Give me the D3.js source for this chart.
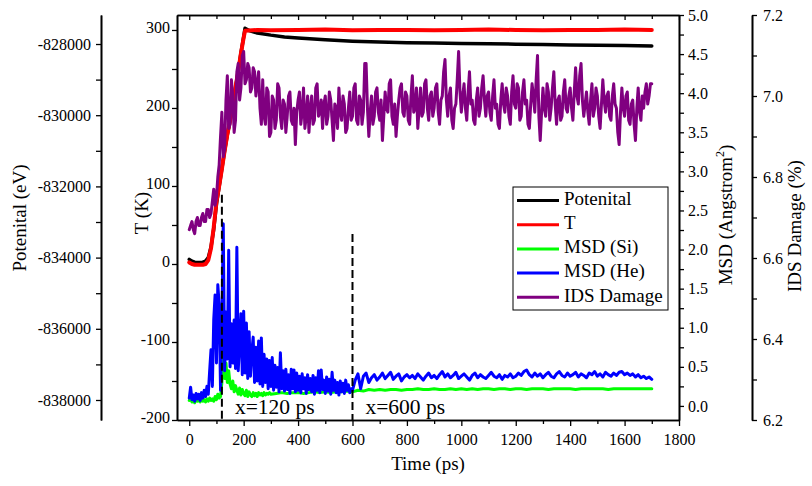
<!DOCTYPE html>
<html>
<head>
<meta charset="utf-8">
<script src="https://cdn.jsdelivr.net/npm/d3@7"></script>
<style>
  html, body { margin: 0; padding: 0; background: #fff; }
  svg { display: block; font-family: "Liberation Serif", "Times New Roman", serif; }
</style>
</head>
<body>
<svg id="chart" width="812" height="486"></svg>
<script>
// ---- tick labels ----
const timeTicks = [0, 200, 400, 600, 800, 1000, 1200, 1400, 1600, 1800];
const timeMinorTicks = [100, 300, 500, 700, 900, 1100, 1300, 1500, 1700];
const potentialTicks = [-838000, -836000, -834000, -832000, -830000, -828000];
const potentialMinorTicks = [-837000, -835000, -833000, -831000, -829000];
const temperatureTicks = [-200, -100, 0, 100, 200, 300];
const temperatureMinorTicks = [-150, -50, 50, 150, 250];
const msdTicks = [0, 0.5, 1, 1.5, 2, 2.5, 3, 3.5, 4, 4.5, 5];
const msdMinorTicks = [0.25, 0.75, 1.25, 1.75, 2.25, 2.75, 3.25, 3.75, 4.25, 4.75];
const idsTicks = [6.2, 6.4, 6.6, 6.8, 7.0, 7.2];
const idsMinorTicks = [6.3, 6.5, 6.7, 6.9, 7.1];

// ---- potential energy (eV) ----
const potentialTime = [0, 10, 20, 30, 40, 50, 60, 70, 80, 90, 100, 110, 120, 130, 140, 150, 160, 170, 180, 190,
  200, 205, 220, 250, 300, 350, 400, 500, 600, 700, 800, 900, 1000, 1100, 1200, 1300, 1400, 1500, 1600, 1700];
const potentialValue = [-834050, -834100, -834130, -834140, -834140, -834130, -834100, -834000, -833700, -833200,
  -832500, -832000, -831500, -831000, -830550, -830150, -829680, -829230, -828760, -828250,
  -827800, -827560, -827620, -827690, -827750, -827800, -827830, -827880, -827920, -827945,
  -827965, -827975, -827985, -827995, -828005, -828015, -828025, -828035, -828045, -828055];

// ---- temperature (K) ----
const temperatureTime = [0, 10, 20, 30, 40, 50, 60, 70, 80, 90, 100, 110, 120, 130, 140, 150, 160, 170, 180, 190,
  200, 205, 250, 300, 400, 500, 600, 700, 800, 900, 1000, 1100, 1200, 1300, 1400, 1500, 1600, 1700];
const temperatureValue = [2, 0, -1, -1, -1, -1, 0, 5, 20, 47, 80, 100, 122, 145, 166, 184, 205, 226, 247, 270,
  290, 299, 300, 299.5, 300, 300.5, 299.5, 300, 300, 299.5, 300, 300.5, 300, 299.5, 300, 300, 300.5, 300];

// ---- MSD of Si (Angstrom^2): 0-300 ps every 5 ps, then 320-1700 ps every 20 ps ----
const msdSiEarly = [0.07, 0.10, 0.05, 0.08, 0.04, 0.09, 0.06, 0.08, 0.05, 0.09, 0.06, 0.08, 0.05, 0.09, 0.06, 0.10,
  0.07, 0.09, 0.06, 0.12, 0.08, 0.15, 0.10, 0.12, 0.30, 0.84, 0.35, 0.55, 0.30, 0.45, 0.28, 0.22, 0.32, 0.18,
  0.26, 0.20, 0.15, 0.23, 0.14, 0.21, 0.16, 0.13, 0.20, 0.12, 0.18, 0.14, 0.12, 0.17, 0.13, 0.16, 0.12, 0.17,
  0.14, 0.16, 0.13, 0.17, 0.14, 0.16, 0.15, 0.17, 0.15];
const msdSiLate = [0.16, 0.17, 0.16, 0.17, 0.17, 0.16, 0.17, 0.18, 0.17, 0.18, 0.17, 0.18, 0.18, 0.19, 0.18, 0.20,
  0.19, 0.21, 0.20, 0.21, 0.20, 0.21, 0.21, 0.20, 0.21, 0.21, 0.22, 0.21, 0.21, 0.22, 0.21, 0.21, 0.22, 0.21,
  0.22, 0.21, 0.22, 0.21, 0.22, 0.22, 0.21, 0.22, 0.22, 0.21, 0.22, 0.22, 0.21, 0.22, 0.22, 0.22, 0.21, 0.22,
  0.22, 0.22, 0.22, 0.21, 0.22, 0.22, 0.22, 0.22, 0.22, 0.21, 0.22, 0.22, 0.22, 0.22, 0.22, 0.22, 0.22, 0.22];

// ---- MSD of He (Angstrom^2): 0-600 ps every 5 ps, then 610-1700 ps every 10 ps ----
const msdHeEarly = [0.10, 0.24, 0.08, 0.14, 0.06, 0.16, 0.09, 0.15, 0.07, 0.17, 0.10, 0.20, 0.12, 0.25, 0.15, 0.45,
  0.72, 0.25, 1.10, 1.42, 0.55, 1.55, 1.30, 0.20, 1.00, 2.33, 0.45, 1.20, 0.60, 1.99, 0.50, 1.05, 0.55, 1.10,
  0.48, 2.03, 0.45, 0.80, 1.18, 0.40, 1.21, 0.42, 1.06, 0.35, 0.95, 0.38, 0.70, 0.88, 0.30, 0.75, 0.32, 0.83,
  0.28, 0.87, 0.25, 0.66, 0.30, 0.60, 0.22, 0.58, 0.25, 0.62, 0.20, 0.52, 0.24, 0.49, 0.18, 0.68, 0.22, 0.45,
  0.19, 0.47, 0.21, 0.40, 0.16, 0.47, 0.22, 0.46, 0.18, 0.42, 0.20, 0.38, 0.17, 0.41, 0.22, 0.36, 0.16, 0.40,
  0.21, 0.35, 0.18, 0.39, 0.15, 0.36, 0.20, 0.45, 0.17, 0.46, 0.21, 0.33, 0.16, 0.37, 0.19, 0.34, 0.15, 0.43,
  0.20, 0.33, 0.17, 0.30, 0.14, 0.32, 0.18, 0.29, 0.16, 0.33, 0.20, 0.27, 0.17, 0.22, 0.20];
const msdHeLate = [0.33, 0.41, 0.22, 0.38, 0.42, 0.30, 0.36, 0.40, 0.33, 0.37,
  0.42, 0.35, 0.39, 0.43, 0.34, 0.38, 0.41, 0.32, 0.37, 0.40,
  0.36, 0.39, 0.35, 0.41, 0.37, 0.33, 0.38, 0.42, 0.36, 0.39,
  0.35, 0.40, 0.44, 0.37, 0.41, 0.36, 0.39, 0.43, 0.35, 0.38,
  0.41, 0.37, 0.33, 0.39, 0.42, 0.36, 0.40, 0.37, 0.35, 0.39,
  0.43, 0.38, 0.36, 0.40, 0.34, 0.39, 0.37, 0.41, 0.36, 0.38,
  0.42, 0.39, 0.44, 0.46, 0.40, 0.37, 0.42, 0.38, 0.41, 0.36,
  0.40, 0.43, 0.38, 0.36, 0.41, 0.44, 0.39, 0.37, 0.42, 0.38,
  0.40, 0.43, 0.37, 0.41, 0.39, 0.36, 0.42, 0.40, 0.44, 0.38,
  0.41, 0.37, 0.43, 0.40, 0.38, 0.42, 0.39, 0.43, 0.44, 0.40,
  0.42, 0.39, 0.41, 0.37, 0.40, 0.36, 0.38, 0.35, 0.37, 0.34];

// ---- IDS damage (%): 0-1700 ps every 5 ps ----
const idsDamage = [
  6.67, 6.68, 6.69, 6.67, 6.66, 6.69, 6.70, 6.68, 6.68, 6.70, 6.71, 6.69, 6.69, 6.72, 6.72, 6.70, 6.71, 6.74, 6.77, 6.73,
  6.75, 6.80, 6.83, 6.90, 6.96, 6.85, 6.87, 6.99, 7.05, 6.92, 6.93, 7.04, 7.00, 6.91, 6.94, 7.06, 7.08, 6.99, 7.02, 7.10,
  7.11, 7.03, 7.04, 7.08, 7.07, 7.01, 7.02, 7.07, 7.06, 7.00, 7.03, 7.06, 6.97, 6.93, 7.04, 6.95, 6.93, 7.02, 7.01, 6.90,
  6.91, 7.00, 6.99, 6.92, 6.94, 7.03, 7.02, 6.95, 6.92, 6.99, 6.98, 6.91, 6.95, 7.00, 7.01, 6.94, 6.93, 6.97, 6.88, 6.96,
  6.99, 7.01, 6.93, 6.96, 7.02, 6.92, 6.95, 7.00, 6.91, 6.97, 7.00, 6.93, 6.94, 7.02, 7.03, 6.95, 6.96, 6.99, 6.92, 6.98,
  7.00, 6.93, 6.95, 7.01, 6.99, 6.94, 6.89, 6.98, 6.97, 6.92, 7.02, 6.96, 6.94, 7.00, 6.98, 6.91, 6.92, 6.97, 7.01, 6.94,
  6.95, 7.02, 7.03, 6.94, 6.93, 7.00, 6.99, 6.93, 6.96, 7.08, 7.08, 6.97, 6.90, 6.96, 7.00, 6.93, 6.95, 7.01, 7.02, 6.96,
  6.94, 6.99, 6.89, 6.95, 7.01, 6.97, 6.96, 7.03, 7.04, 6.95, 6.93, 6.98, 6.90, 6.95, 6.99, 7.02, 7.03, 6.96, 6.95, 7.01,
  7.00, 6.94, 6.93, 7.00, 7.05, 6.96, 6.97, 7.02, 6.92, 6.97, 7.02, 6.95, 6.96, 7.03, 7.04, 6.97, 6.94, 7.00, 7.01, 6.95,
  6.97, 7.02, 7.03, 6.96, 6.93, 6.99, 7.00, 7.06, 7.09, 6.99, 6.95, 7.00, 7.02, 6.94, 6.92, 6.97, 6.98, 7.04, 7.11, 7.01,
  6.96, 7.00, 7.03, 6.97, 6.94, 7.01, 7.06, 6.98, 6.99, 6.94, 6.93, 6.99, 7.02, 6.95, 6.97, 7.02, 7.05, 6.99, 6.95, 7.00,
  7.01, 6.96, 6.94, 7.00, 7.04, 6.97, 6.98, 6.93, 6.92, 6.99, 7.03, 6.98, 6.96, 7.02, 7.00, 6.95, 6.93, 7.01, 7.05, 6.98,
  6.97, 7.03, 7.02, 6.94, 6.95, 7.01, 7.04, 6.98, 6.99, 6.93, 6.92, 6.98, 7.03, 7.00, 6.96, 7.04, 7.10, 6.95, 6.89, 6.96,
  7.02, 6.97, 6.95, 7.03, 7.01, 6.94, 6.97, 7.02, 7.06, 6.98, 6.93, 6.99, 7.00, 6.94, 6.95, 7.01, 7.04, 6.97, 6.96, 7.00,
  7.02, 6.97, 6.94, 7.01, 7.07, 7.00, 6.98, 7.05, 7.08, 6.99, 6.95, 6.98, 7.01, 6.96, 6.93, 6.99, 7.03, 6.95, 6.97, 7.02,
  7.00, 6.95, 6.92, 6.98, 7.04, 6.99, 6.96, 7.00, 7.01, 6.95, 6.94, 7.00, 7.03, 6.98, 6.97, 6.91, 6.88, 6.96, 7.02, 6.97,
  6.95, 7.00, 7.01, 6.94, 6.93, 6.98, 6.99, 6.93, 6.89, 6.97, 7.02, 6.96, 6.94, 7.00, 6.97, 7.01, 7.03, 6.98, 7.00, 7.03,
  7.03];

// ---- reference markers (time in ps, top end in MSD units) ----
const markerTimes = [120, 600];
const markerTops = [2.7, 2.2];
const markerLabels = ["x=120 ps", "x=600 ps"];

// ---- legend ----
const legendNames = ["Potenital", "T", "MSD (Si)", "MSD (He)", "IDS Damage"];
const legendColors = ["#000000", "#ff0000", "#00ff00", "#0000ff", "#800080"];

// ---------------------------------------------------------------
const svg = d3.select("#chart");
const frame = { left: 177, right: 679, top: 15, bottom: 420 };
const FONT = "\"Liberation Serif\", \"Times New Roman\", serif";

const x = d3.scaleLinear().domain([-45, 1800]).range([frame.left, frame.right]);
const yT = d3.scaleLinear().domain([-200, 319.2]).range([frame.bottom, frame.top]);
const yPot = d3.scaleLinear().domain([-838562, -827185]).range([frame.bottom, frame.top]);
const yMsd = d3.scaleLinear().domain([-0.18, 5.0]).range([frame.bottom, frame.top]);
const yIds = d3.scaleLinear().domain([6.2, 7.2]).range([frame.bottom, frame.top]);

const plain = d => String(d);

function axisPair(translate, axisFn, scale, major, minor, fmt, majorSize, minorSize, pad, labelDy) {
  const g = svg.append("g").attr("transform", translate);
  g.append("g").call(axisFn(scale).tickValues(minor).tickSize(minorSize).tickSizeOuter(0).tickFormat(""));
  const m = g.append("g").call(axisFn(scale).tickValues(major).tickSize(majorSize).tickSizeOuter(0)
    .tickPadding(pad).tickFormat(fmt));
  g.selectAll("g").attr("font-family", FONT).attr("font-size", 16);
  g.selectAll(".domain").attr("stroke", "#000").attr("stroke-width", 1.6);
  g.selectAll(".tick line").attr("stroke", "#000").attr("stroke-width", 1.3);
  m.selectAll(".tick text").attr("fill", "#000");
  if (labelDy) m.selectAll(".tick text").attr("dy", labelDy);
  return g;
}

// axes
axisPair(`translate(101,0)`, d3.axisLeft, yPot, potentialTicks, potentialMinorTicks, plain, 5, 5, 5);
axisPair(`translate(${frame.left},0)`, d3.axisLeft, yT, temperatureTicks, temperatureMinorTicks, plain, 5, 5, 2, "0.15em");
axisPair(`translate(${frame.right},0)`, d3.axisRight, yMsd, msdTicks, msdMinorTicks, d3.format(".1f"), 5, 5, 4);
axisPair(`translate(752,0)`, d3.axisRight, yIds, idsTicks, idsMinorTicks, d3.format(".1f"), 5, 5, 6);
axisPair(`translate(0,${frame.bottom})`, d3.axisBottom, x, timeTicks, timeMinorTicks, plain, 6, 4, 8);
// top border with inward ticks
axisPair(`translate(0,${frame.top})`, d3.axisBottom, x, timeTicks, timeMinorTicks, () => "", 5, 4, 0);

// axis titles
function title(txt, tx, ty, rotate) {
  return svg.append("text")
    .attr("transform", `translate(${tx},${ty})` + (rotate ? " rotate(-90)" : ""))
    .attr("text-anchor", "middle").attr("dominant-baseline", "middle")
    .attr("font-family", FONT).attr("font-size", 19).attr("fill", "#000")
    .text(txt);
}
title("Potenital (eV)", 22, 218, true);
title("T (K)", 144, 213, true);
title("Time (ps)", 428, 466, false);
title("IDS Damage (%)", 797, 226, true);
const msdTitle = title("", 728, 215, true);
msdTitle.append("tspan").text("MSD (Angstrom");
msdTitle.append("tspan").attr("font-size", 12).attr("dy", -7).text("2");
msdTitle.append("tspan").attr("dy", 7).text(")");

// series
const potentialSeries = potentialTime.map((t, i) => [t, potentialValue[i]]);
const temperatureSeries = temperatureTime.map((t, i) => [t, temperatureValue[i]]);
const siSeries = msdSiEarly.map((v, i) => [i * 5, v]).concat(msdSiLate.map((v, i) => [320 + i * 20, v]));
const heSeries = msdHeEarly.map((v, i) => [i * 5, v]).concat(msdHeLate.map((v, i) => [610 + i * 10, v]));
const idsSeries = idsDamage.map((v, i) => [i * 5, v]);

function drawLine(data, yScale, color, width) {
  svg.append("path").datum(data)
    .attr("fill", "none").attr("stroke", color).attr("stroke-width", width)
    .attr("stroke-linejoin", "round").attr("stroke-linecap", "round")
    .attr("d", d3.line().x(d => x(d[0])).y(d => yScale(d[1])));
}
drawLine(potentialSeries, yPot, legendColors[0], 3.5);
drawLine(temperatureSeries, yT, legendColors[1], 4);
drawLine(siSeries, yMsd, legendColors[2], 3);
drawLine(heSeries, yMsd, legendColors[3], 3);
drawLine(idsSeries, yIds, legendColors[4], 3);

// dashed reference lines
markerTimes.forEach((t, i) => {
  svg.append("line")
    .attr("x1", x(t)).attr("x2", x(t))
    .attr("y1", yMsd(markerTops[i])).attr("y2", frame.bottom)
    .attr("stroke", "#000").attr("stroke-width", 2).attr("stroke-dasharray", "8,4");
  svg.append("text")
    .attr("x", x(t) + 13).attr("y", 414)
    .attr("font-family", FONT).attr("font-size", 21.5).attr("fill", "#000")
    .text(markerLabels[i]);
});

// legend
const legend = svg.append("g").attr("transform", "translate(513,187)");
legend.append("rect").attr("width", 155).attr("height", 123)
  .attr("fill", "#fff").attr("stroke", "#000").attr("stroke-width", 1);
legendNames.forEach((name, i) => {
  const yy = 13.5 + i * 24.2;
  legend.append("line").attr("x1", 4).attr("x2", 46).attr("y1", yy).attr("y2", yy)
    .attr("stroke", legendColors[i]).attr("stroke-width", 3);
  legend.append("text").attr("x", 51).attr("y", yy).attr("dominant-baseline", "middle")
    .attr("font-family", FONT).attr("font-size", 19).attr("fill", "#000").text(name);
});
</script>
</body>
</html>
